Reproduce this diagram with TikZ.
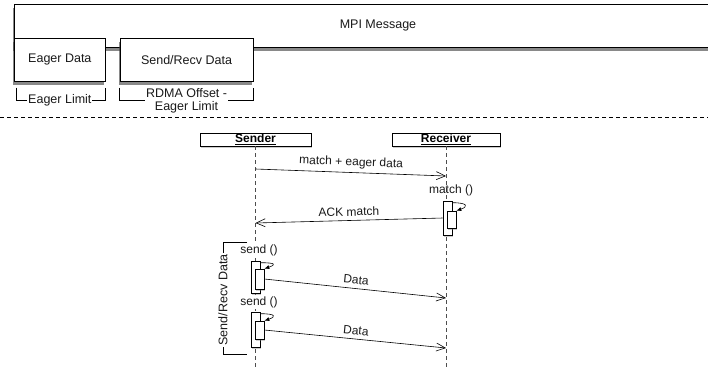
\documentclass[tikz,border=0pt]{standalone}
\usepackage{fontspec}
\setmainfont{Liberation Sans}
\usetikzlibrary{arrows.meta,positioning,shadows}
\definecolor{shadowgray}{HTML}{3A3A3A}
\definecolor{lifeline}{HTML}{4D4D4D}
\definecolor{darktext}{HTML}{1A1A1A}
\tikzset{
  framebox/.style={draw,fill=white,line width=0.7pt,inner sep=0pt,font=\fontsize{12.5}{14}\selectfont,text=darktext,
    drop shadow={shadow xshift=-1.5pt,shadow yshift=-3.5pt,opacity=0.6,fill=shadowgray}},
  rolebox/.style={draw,fill=white,line width=0.6pt,minimum height=13pt,inner sep=0pt,font=\fontsize{12}{13}\selectfont\bfseries,
    drop shadow={shadow xshift=1pt,shadow yshift=-2pt,opacity=0.4}},
  actbox/.style={draw,fill=white,line width=0.6pt,minimum width=9pt,inner sep=0pt,
    drop shadow={shadow xshift=1pt,shadow yshift=-2pt,opacity=0.4}},
  msg/.style={-{Straight Barb[length=9pt,width=8pt]},line width=0.6pt},
  selfcall/.style={-{Latex[length=5pt,width=4pt]},line width=0.6pt},
  lifedash/.style={dash pattern=on 4pt off 3pt,lifeline,line width=0.7pt},
  msglabel/.style={font=\fontsize{12}{13}\selectfont,text=darktext,inner sep=1pt},
  bracketlabel/.style={fill=white,font=\fontsize{12.5}{13}\selectfont,text=darktext,align=center,inner sep=1pt}
}

\begin{document}
\begin{tikzpicture}[x=1pt,y=-1pt]
  \useasboundingbox (0,0) rectangle (708,367);

  % Message layout
  \node[framebox,minimum width=700pt,minimum height=43pt,anchor=north west] (mpi) at (14,4) {};
  \node[msglabel,font=\fontsize{12.5}{14}\selectfont] (mpilabel) at (378,25) {MPI Message};
  \node[framebox,minimum width=91pt,minimum height=43pt,anchor=north west] (eager) at (14,38) {Eager Data};
  \node[framebox,minimum width=133pt,minimum height=43pt,right=14pt of eager] (sendrecv) {Send/Recv Data};

  \draw[line width=0.6pt] ([xshift=2pt,yshift=-6pt]eager.south west) -- ++(0,13) -| ([yshift=-6pt]eager.south east);
  \node[bracketlabel] (eagerlim) at ([yshift=-19pt]eager.south) {Eager Limit};
  \draw[line width=0.6pt] ([yshift=-6pt]sendrecv.south west) -- ++(0,13) -| ([yshift=-6pt]sendrecv.south east);
  \node[bracketlabel] (rdmalim) at ([yshift=-19pt]sendrecv.south) {RDMA Offset -\\Eager Limit};

  \coordinate (sepleft) at (0,117);
  \coordinate (sepright) at (708,117);
  \draw[dash pattern=on 4pt off 3pt,line width=1pt] (sepleft) -- (sepright);

  % Sequence
  \node[rolebox,minimum width=111pt] (sender) at (255.5,139.5) {\underline{Sender}};
  \node[rolebox,minimum width=108pt] (receiver) at (446,139.5) {\underline{Receiver}};
  \coordinate (senderend) at (255.5,367);
  \coordinate (receiverend) at (446,367);
  \draw[lifedash] (sender) -- (senderend);
  \draw[lifedash] (receiver) -- (receiverend);

  \coordinate (m1start) at (255.5,169);
  \coordinate (m1end) at (446,176);
  \draw[msg] (m1start) -- node[msglabel,above=3pt,sloped] (m1label) {match + eager data} (m1end);

  \node[msglabel] (matchcall) at (451,190) {match ()};
  \node[actbox,minimum height=34pt] (ract) at (447.5,218) {};
  \node[actbox,minimum height=17pt] (rin) at (451.5,219.5) {};
  \draw[selfcall] ([yshift=-2pt]ract.north east) .. controls +(16,0) and +(12,-4) .. (rin.north east);

  \coordinate (ackend) at (255.5,223);
  \draw[msg] (ract.west) -- node[msglabel,above=3pt,sloped] (acklabel) {ACK match} (ackend);

  \coordinate (brtop) at (247,242);
  \coordinate (brbot) at (247,354);
  \draw[line width=0.6pt] (brtop) -- ++(-24,0) |- (brbot);
  \node[bracketlabel,rotate=90] (srlabel) at (223,300) {Send/Recv Data};

  \node[msglabel,fill=white] (send1) at (259,250) {send ()};
  \node[actbox,minimum height=32pt] (sact1) at (255.5,277) {};
  \node[actbox,minimum height=20pt] (sin1) at (259.5,279) {};
  \draw[selfcall] ([yshift=-2pt]sact1.north east) .. controls +(16,0) and +(12,-4) .. (sin1.north east);
  \coordinate (d1end) at (446,298);
  \draw[msg] (sin1.east) -- node[msglabel,above=3pt,sloped] (d1label) {Data} (d1end);

  \node[msglabel,fill=white] (send2) at (259,302) {send ()};
  \node[actbox,minimum height=35pt] (sact2) at (255.5,329.5) {};
  \node[actbox,minimum height=18pt] (sin2) at (259.5,330) {};
  \draw[selfcall] ([yshift=-2pt]sact2.north east) .. controls +(16,0) and +(12,-4) .. (sin2.north east);
  \coordinate (d2end) at (446,348);
  \draw[msg] (sin2.east) -- node[msglabel,above=3pt,sloped] (d2label) {Data} (d2end);
\end{tikzpicture}
\end{document}
